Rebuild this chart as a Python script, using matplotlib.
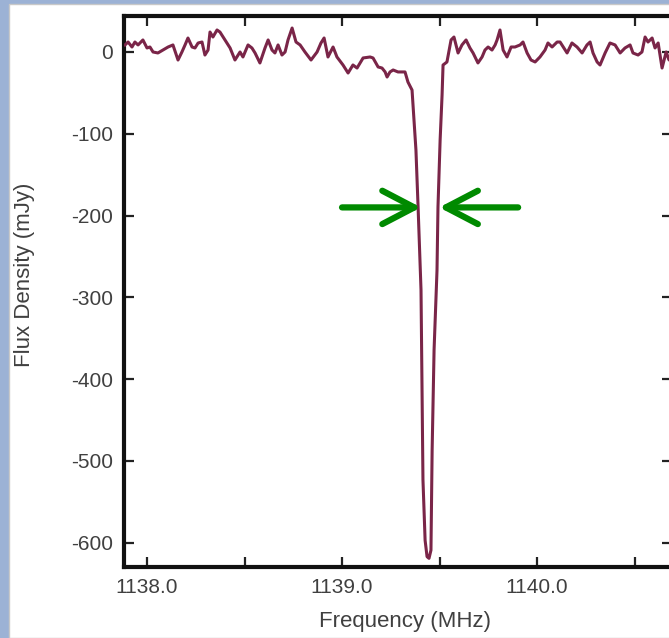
import matplotlib
matplotlib.use("Agg")
import matplotlib.pyplot as plt
from matplotlib.patches import Rectangle
from matplotlib.ticker import MultipleLocator

# spectrum
freq_mhz = [
    1137.887, 1137.903, 1137.923, 1137.938, 1137.954, 1137.979, 1138.000, 1138.015,
    1138.031, 1138.056, 1138.082, 1138.108, 1138.133, 1138.159, 1138.179, 1138.195,
    1138.210, 1138.231, 1138.246, 1138.262, 1138.282, 1138.297, 1138.313, 1138.323,
    1138.338, 1138.359, 1138.374, 1138.400, 1138.426, 1138.451, 1138.477, 1138.492,
    1138.518, 1138.538, 1138.554, 1138.579, 1138.605, 1138.621, 1138.641, 1138.656,
    1138.672, 1138.692, 1138.708, 1138.723, 1138.744, 1138.764, 1138.785, 1138.810,
    1138.841, 1138.872, 1138.892, 1138.908, 1138.928, 1138.954, 1138.974, 1139.005,
    1139.031, 1139.056, 1139.077, 1139.108, 1139.144, 1139.159, 1139.185, 1139.205,
    1139.221, 1139.231, 1139.246, 1139.262, 1139.287, 1139.323, 1139.338, 1139.359,
    1139.379, 1139.390, 1139.405, 1139.410, 1139.415, 1139.426, 1139.436, 1139.446,
    1139.456, 1139.462, 1139.472, 1139.487, 1139.492, 1139.503, 1139.513, 1139.518,
    1139.538, 1139.559, 1139.574, 1139.595, 1139.615, 1139.636, 1139.656, 1139.672,
    1139.697, 1139.718, 1139.733, 1139.749, 1139.769, 1139.785, 1139.795, 1139.810,
    1139.826, 1139.846, 1139.867, 1139.887, 1139.913, 1139.928, 1139.949, 1139.969,
    1139.990, 1140.015, 1140.041, 1140.056, 1140.077, 1140.103, 1140.118, 1140.154,
    1140.179, 1140.205, 1140.231, 1140.256, 1140.272, 1140.287, 1140.308, 1140.323,
    1140.349, 1140.374, 1140.400, 1140.426, 1140.451, 1140.477, 1140.492, 1140.518,
    1140.538, 1140.554, 1140.569, 1140.590, 1140.605, 1140.621, 1140.641, 1140.662,
    1140.677, 1140.703,
]
flux_mjy = [
    8.6, 12.2, 6.1, 12.2, 8.6, 14.7, 4.9, 6.1,
    0.0, -1.2, 2.4, 6.1, 8.6, -9.8, 0.0, 8.6,
    17.1, 6.1, 4.9, 11.0, 12.2, -3.7, 2.4, 24.4,
    18.3, 26.9, 24.4, 14.7, 4.9, -9.8, 0.0, -6.1,
    8.6, 4.9, -1.2, -13.4, 4.9, 14.7, 2.4, -1.2,
    8.6, -3.7, 0.0, 14.7, 29.3, 12.2, 8.6, 0.0,
    -9.8, 0.0, 11.0, 17.1, -6.1, 6.1, -6.1, -15.9,
    -25.7, -15.9, -19.6, -7.3, -6.1, -7.3, -18.3, -19.6,
    -24.4, -30.6, -24.4, -22.0, -24.4, -24.4, -36.7, -46.5,
    -119.8, -189.5, -291.0, -401.0, -523.0, -597.0, -617.0, -619.0,
    -609.0, -487.0, -364.0, -267.0, -189.5, -107.6, -52.6, -15.9,
    -12.2, 14.7, 18.3, -1.2, 8.6, 14.7, 4.9, -1.2,
    -13.4, -6.1, 2.4, 6.1, 2.4, 8.6, 14.7, 26.9,
    2.4, -6.1, 6.1, 6.1, 8.6, 12.2, -1.2, -9.8,
    -12.2, -6.1, 2.4, 11.0, 6.1, 12.2, 12.2, -1.2,
    11.0, 6.1, -1.2, 8.6, 12.2, -1.2, -12.2, -15.9,
    -1.2, 11.0, 8.6, -1.2, 4.9, 8.6, -1.2, -3.7,
    0.0, 18.3, 12.2, 17.1, 4.9, 11.0, -19.6, 0.0,
    -9.8, 2.4,
]

# FWHM marker arrows (tail, tip) in MHz, at half depth
fwhm_level = -190
left_arrow = (1139.00, 1139.405)
right_arrow = (1139.903, 1139.498)

text_color = "#404040"
plt.rcParams["font.family"] = ["Liberation Sans", "DejaVu Sans"]
plt.rcParams["axes.unicode_minus"] = False

fig = plt.figure(figsize=(6.69, 6.38), dpi=100, facecolor="#9cb2d5")
fig.patches.append(Rectangle((9 / 669, 0), 1, 1 - 4 / 638, transform=fig.transFigure,
                             facecolor="white", edgecolor="#c8c8c8", lw=1, zorder=-10))

ax = fig.add_axes([124 / 669, 71 / 638, 548 / 669, 551 / 638])
ax.patch.set_alpha(0)
ax.plot(freq_mhz, flux_mjy, color="#7a2548", lw=2.2, zorder=3)

for tail, tip in (left_arrow, right_arrow):
    ax.annotate("", xy=(tip, fwhm_level), xytext=(tail, fwhm_level),
                arrowprops=dict(arrowstyle="->,head_length=1.15,head_width=0.6",
                                color="#008a00", lw=4.5, shrinkA=0, shrinkB=0,
                                mutation_scale=20, capstyle="round", joinstyle="round"),
                zorder=4)

ax.set_xlim(1137.882, 1140.692)
ax.set_ylim(-629.6, 44.0)

ax.xaxis.set_major_locator(MultipleLocator(1.0))
ax.xaxis.set_minor_locator(MultipleLocator(0.5))
ax.yaxis.set_major_locator(MultipleLocator(100))
ax.xaxis.set_major_formatter(lambda v, pos: f"{v:.1f}")
ax.tick_params(axis="both", which="both", direction="in", top=True, right=True,
               length=7, width=1.6, color="#222222", labelsize=15,
               labelcolor=text_color, pad=8)

for s in ax.spines.values():
    s.set_linewidth(3.0)
    s.set_color("#111111")

ax.set_xlabel("Frequency (MHz)", fontsize=16, color=text_color)
ax.set_ylabel("Flux Density (mJy)", fontsize=16, color=text_color)
ax.xaxis.set_label_coords(0.513, -0.080)
ax.yaxis.set_label_coords(-0.162, 0.53)

fig.savefig("out.png", dpi=100, facecolor=fig.get_facecolor())
